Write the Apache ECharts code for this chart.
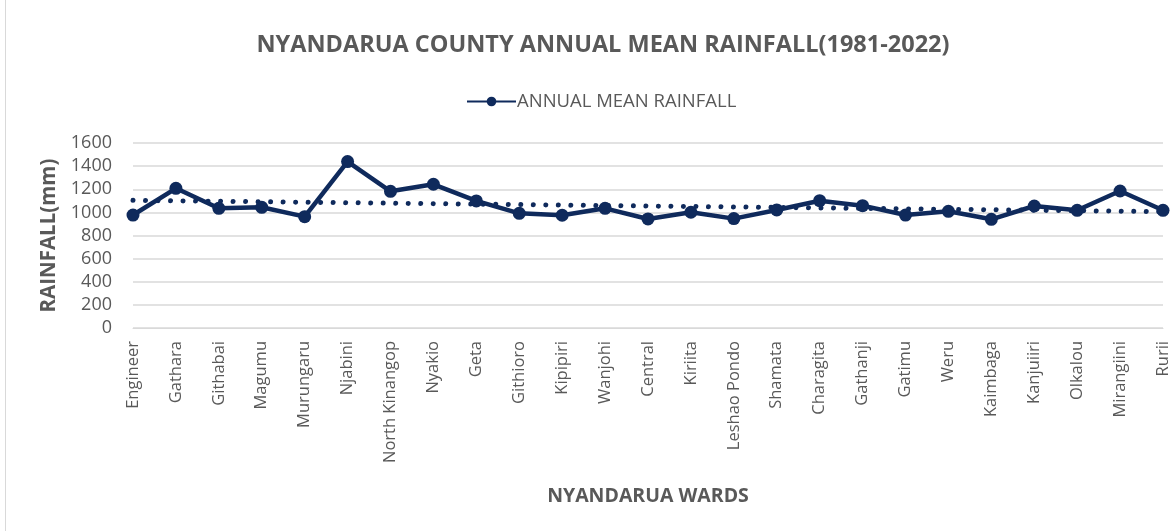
<!DOCTYPE html>
<html>
<head>
<meta charset="utf-8">
<script src="https://cdn.jsdelivr.net/npm/echarts@6/dist/echarts.min.js"></script>
<style>
html,body{margin:0;padding:0;background:#fff;}
#frame{position:absolute;left:5px;top:-1px;width:1176px;height:533px;border:1px solid #d9d9d9;box-sizing:border-box;}
#chart{position:absolute;left:0;top:0;width:1176px;height:531px;}
</style>
</head>
<body>
<div id="frame"></div>
<div id="chart"></div>
<script>
const wards = ["Engineer","Gathara","Githabai","Magumu","Murungaru","Njabini","North Kinangop","Nyakio","Geta","Githioro","Kipipiri","Wanjohi","Central","Kiriita","Leshao Pondo","Shamata","Charagita","Gathanji","Gatimu","Weru","Kaimbaga","Kanjuiiri","Olkalou","Mirangiini","Rurii"];
const rainfall = [977,1208,1035,1044,963,1439,1182,1243,1099,992,975,1035,943,1001,946,1021,1101,1058,977,1009,940,1055,1018,1185,1018];
const trendEnds = [1104,1006];
const yTicks = {min:0,max:1600,interval:200};

const trend = wards.map((w,i)=> i===0 ? trendEnds[0] : (i===wards.length-1 ? trendEnds[1] : null));

const grey = '#595959';
const navy = '#0f2a5c';
const font = '"Open Sans", sans-serif';

const chart = echarts.init(document.getElementById('chart'));
chart.setOption({
  animation:false,
  backgroundColor:'transparent',
  title:{
    text:'NYANDARUA COUNTY ANNUAL MEAN RAINFALL(1981-2022)',
    left:598, top:28, textAlign:'center',
    textStyle:{fontFamily:font,fontSize:23.5,fontWeight:'bold',color:grey}
  },
  legend:{
    data:[{name:'ANNUAL MEAN RAINFALL'}],
    left:461, top:87,
    itemWidth:49, itemHeight:12, itemGap:4,
    textStyle:{fontFamily:font,fontSize:18.5,color:grey,padding:[0,0,0,-4]}
  },
  grid:{left:133,right:13,top:143,bottom:203,containLabel:false},
  xAxis:{
    type:'category',
    data:wards,
    boundaryGap:false,
    name:'NYANDARUA WARDS',
    nameLocation:'middle',
    nameGap:158,
    nameTextStyle:{fontFamily:font,fontSize:19.5,fontWeight:'bold',color:grey},
    axisLine:{show:true,lineStyle:{color:'#d9d9d9',width:1}},
    axisTick:{show:false},
    axisLabel:{rotate:90,interval:0,margin:13,fontFamily:font,fontSize:16.5,color:grey}
  },
  yAxis:{
    type:'value',
    min:yTicks.min,max:yTicks.max,interval:yTicks.interval,
    name:'RAINFALL(mm)',
    nameLocation:'middle',
    nameGap:70,
    nameRotate:90,
    nameTextStyle:{fontFamily:font,fontSize:20.5,fontWeight:'bold',color:grey},
    axisLine:{show:false},
    axisTick:{show:false},
    axisLabel:{margin:21,fontFamily:font,fontSize:18,color:grey,formatter:(v)=>String(v)},
    splitLine:{lineStyle:{color:'#d9d9d9',width:1.5}}
  },
  series:[
    {
      name:'ANNUAL MEAN RAINFALL',
      type:'line',
      data:rainfall,
      symbol:'circle',
      symbolSize:13,
      lineStyle:{color:navy,width:4.5},
      itemStyle:{color:navy},
      z:3
    },
    {
      name:'trend',
      type:'line',
      data:trend,
      connectNulls:true,
      symbol:'none',
      lineStyle:{color:navy,width:5,type:[0.01,12.5],cap:'round'},
      z:2,
      silent:true
    }
  ]
});
</script>
</body>
</html>
